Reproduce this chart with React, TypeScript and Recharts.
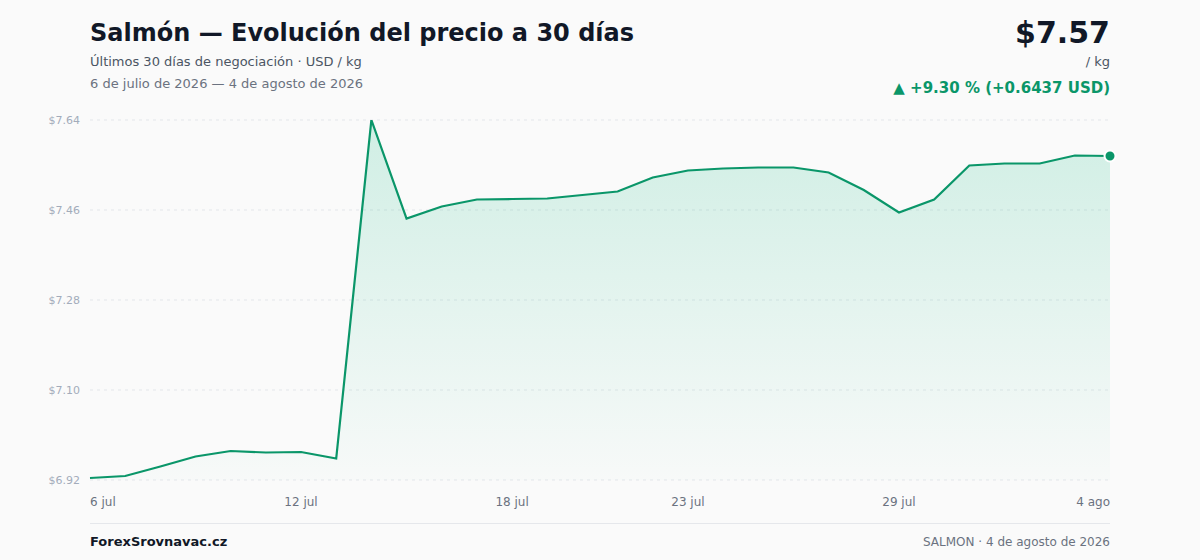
import React from "react";
import {
  AreaChart,
  Area,
  XAxis,
  YAxis,
  CartesianGrid,
} from "recharts";

const days = [
  "6 jul", "7 jul", "8 jul", "9 jul", "10 jul", "11 jul", "12 jul", "13 jul",
  "14 jul", "15 jul", "16 jul", "17 jul", "18 jul", "19 jul", "20 jul", "21 jul",
  "22 jul", "23 jul", "24 jul", "25 jul", "26 jul", "27 jul", "28 jul", "29 jul",
  "30 jul", "31 jul", "1 ago", "2 ago", "3 ago", "4 ago",
];

const prices = [
  6.924, 6.928, 6.947, 6.967, 6.978, 6.975, 6.976, 6.963,
  7.64, 7.443, 7.467, 7.481, 7.482, 7.483, 7.49, 7.497,
  7.525, 7.539, 7.543, 7.545, 7.545, 7.535, 7.5, 7.455,
  7.481, 7.549, 7.553, 7.553, 7.569, 7.568,
];

const xTicks = ["6 jul", "12 jul", "18 jul", "23 jul", "29 jul", "4 ago"];
const yTicks = [6.92, 7.1, 7.28, 7.46, 7.64];

const data = days.map((d, i) => ({ day: d, price: prices[i] }));

const GREEN = "#0a9669";
const FONT = "'DejaVu Sans', sans-serif";

function XTick(props: any) {
  const { x, y, payload } = props;
  const v = payload.value;
  let anchor = "middle";
  if (v === xTicks[0]) anchor = "start";
  if (v === xTicks[xTicks.length - 1]) anchor = "end";
  return (
    <text
      x={x}
      y={y}
      dy={18}
      textAnchor={anchor}
      fill="#6b7280"
      fontSize={12}
      fontFamily={FONT}
    >
      {v}
    </text>
  );
}

function LastDot(props: any) {
  const { cx, cy, index } = props;
  if (index !== prices.length - 1) return <g key={index} />;
  return (
    <circle
      key={index}
      cx={cx}
      cy={cy}
      r={5.5}
      fill={GREEN}
      stroke="#ffffff"
      strokeWidth={2}
    />
  );
}

export default function App() {
  return (
    <div
      style={{
        position: "absolute",
        top: 0,
        left: 0,
        width: 1200,
        height: 560,
        background: "#fafafa",
        fontFamily: FONT,
        overflow: "hidden",
      }}
    >
      <div
        style={{
          position: "absolute",
          left: 90,
          top: 19,
          fontSize: 24,
          fontWeight: 700,
          color: "#111827",
        }}
      >
        Salmón — Evolución del precio a 30 días
      </div>
      <div
        style={{
          position: "absolute",
          left: 90,
          top: 54,
          fontSize: 13,
          color: "#4b5563",
        }}
      >
        Últimos 30 días de negociación · USD / kg
      </div>
      <div
        style={{
          position: "absolute",
          left: 90,
          top: 76,
          fontSize: 13,
          color: "#6b7280",
        }}
      >
        6 de julio de 2026 — 4 de agosto de 2026
      </div>

      <div
        style={{
          position: "absolute",
          right: 90,
          top: 15,
          fontSize: 30,
          fontWeight: 700,
          color: "#111827",
        }}
      >
        $7.57
      </div>
      <div
        style={{
          position: "absolute",
          right: 90,
          top: 54,
          fontSize: 13,
          color: "#4b5563",
        }}
      >
        / kg
      </div>
      <div
        style={{
          position: "absolute",
          right: 90,
          top: 79,
          fontSize: 15,
          fontWeight: 700,
          color: GREEN,
        }}
      >
        ▲ +9.30 % (+0.6437 USD)
      </div>

      <div style={{ position: "absolute", left: 0, top: 0 }}>
        <AreaChart
          width={1200}
          height={560}
          data={data}
          margin={{ top: 120, right: 90, bottom: 50, left: 50 }}
        >
          <defs>
            <linearGradient id="fillGreen" x1="0" y1="0" x2="0" y2="1">
              <stop offset="0%" stopColor="#10b981" stopOpacity={0.3} />
              <stop offset="100%" stopColor="#10b981" stopOpacity={0.02} />
            </linearGradient>
          </defs>
          <CartesianGrid
            vertical={false}
            stroke="#e3e6ea"
            strokeDasharray="3 4"
          />
          <XAxis
            dataKey="day"
            ticks={xTicks}
            interval={0}
            tick={<XTick />}
            tickLine={false}
            axisLine={false}
            tickSize={0}
            tickMargin={8}
            height={30}
          />
          <YAxis
            domain={[6.92, 7.64]}
            ticks={yTicks}
            tickFormatter={(v: number) => `$${v.toFixed(2)}`}
            tick={{ fill: "#a3acbb", fontSize: 11, fontFamily: FONT }}
            tickLine={false}
            axisLine={false}
            tickSize={0}
            tickMargin={10}
            width={40}
            allowDataOverflow
          />
          <Area
            type="linear"
            dataKey="price"
            stroke={GREEN}
            strokeWidth={2.2}
            fill="url(#fillGreen)"
            dot={<LastDot />}
            activeDot={false}
            isAnimationActive={false}
          />
        </AreaChart>
      </div>

      <div
        style={{
          position: "absolute",
          left: 90,
          top: 523,
          width: 1020,
          height: 1,
          background: "#e5e7eb",
        }}
      />
      <div
        style={{
          position: "absolute",
          left: 90,
          top: 534,
          fontSize: 13,
          fontWeight: 700,
          color: "#111827",
        }}
      >
        ForexSrovnavac.cz
      </div>
      <div
        style={{
          position: "absolute",
          right: 90,
          top: 535,
          fontSize: 12,
          color: "#6b7280",
        }}
      >
        SALMON · 4 de agosto de 2026
      </div>
    </div>
  );
}
